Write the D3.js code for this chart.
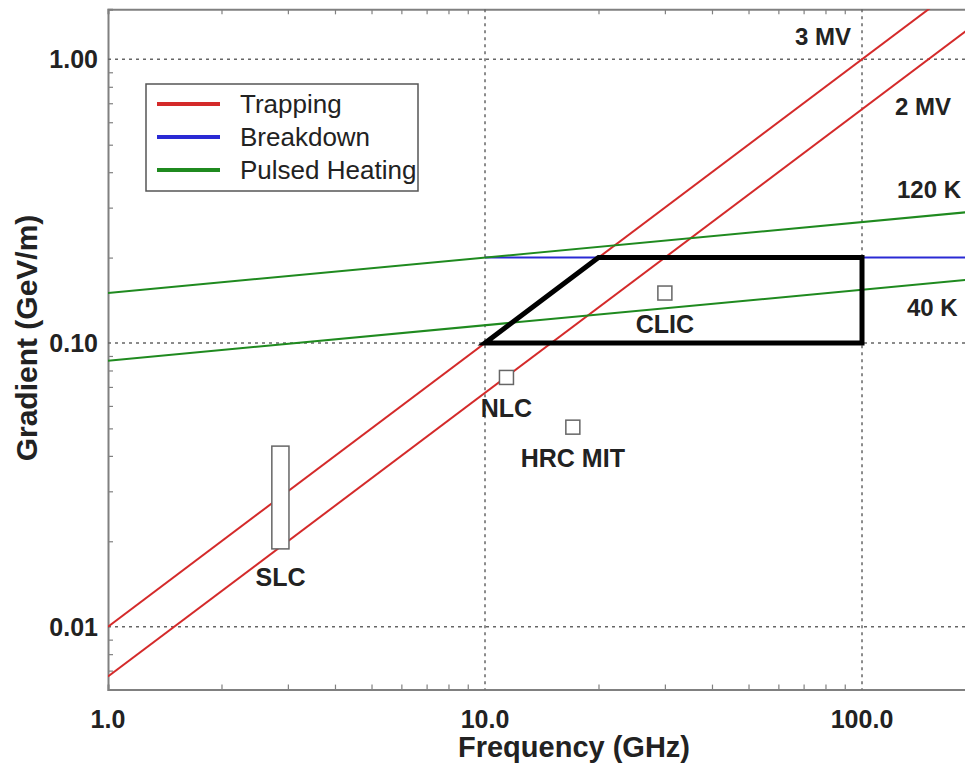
<!DOCTYPE html>
<html>
<head>
<meta charset="utf-8">
<script src="https://cdn.jsdelivr.net/npm/d3@7"></script>
<style>
  body { margin: 0; background: #fff; }
  text { font-family: "Liberation Sans", Arial, sans-serif; fill: #222; }
</style>
</head>
<body>
<script>
const w = 965;
const h = 766;

// data: frequency (GHz) vs gradient (GeV/m)
const trapping = [
	{ label: '3 MV', points: [[1, 0.01], [200, 2.0]] },
	{ label: '2 MV', points: [[1, 0.00667], [200, 1.333]] }
];
const breakdown = [[10, 0.2], [200, 0.2]];
const heating = [
	{ label: '120 K', points: [[1, 0.15], [200, 0.291]] },
	{ label: '40 K', points: [[1, 0.0866], [200, 0.168]] }
];
const region = [[10, 0.1], [20, 0.2], [100, 0.2], [100, 0.1]];
const machines = [
	{ name: 'CLIC', f: 30, g: 0.15 },
	{ name: 'NLC', f: 11.4, g: 0.0756 },
	{ name: 'HRC MIT', f: 17.1, g: 0.0505 }
];
const slc = { name: 'SLC', f0: 2.72, f1: 3.02, g0: 0.0188, g1: 0.0433 };
const xTicks = [1, 10, 100];
const xTickLabels = ['1.0', '10.0', '100.0'];
const yTicks = [1, 0.1, 0.01];
const yTickLabels = ['1.00', '0.10', '0.01'];
const legendItems = [
	{ name: 'Trapping', color: '#d42a2a' },
	{ name: 'Breakdown', color: '#2a2ad4' },
	{ name: 'Pulsed Heating', color: '#1f8a1f' }
];

const x = d3.scaleLog().domain([1, 200]).range([108, 975.5]);
const y = d3.scaleLog().domain([0.006, 1.5]).range([689.6, 9.35]);
const plotTop = y.range()[1], plotBottom = y.range()[0], plotLeft = x.range()[0];

const svg = d3.select('body').append('svg')
	.attr('width', w)
	.attr('height', h);

svg.append('clipPath').attr('id', 'plot')
	.append('rect')
	.attr('x', plotLeft).attr('y', plotTop)
	.attr('width', w - plotLeft).attr('height', plotBottom - plotTop);

// minor ticks, pointing inward, on bottom, top and left
const minorX = [];
for (let d = 1; d < 200; d *= 10) for (let k = 2; k <= 9; k++) if (d * k <= 200) minorX.push(d * k);
const minorY = [];
for (let d = 0.001; d < 1.5; d *= 10) for (let k = 2; k <= 9; k++) if (d * k >= 0.006 && d * k <= 1.5) minorY.push(d * k);

const axisColor = '#808080';
const bAxis = svg.append('g').attr('transform', `translate(0,${plotBottom})`)
	.call(d3.axisBottom(x).tickValues(minorX).tickSize(-5).tickFormat(''));
const tAxis = svg.append('g').attr('transform', `translate(0,${plotTop})`)
	.call(d3.axisTop(x).tickValues(minorX).tickSize(-5).tickFormat(''));
const lAxis = svg.append('g').attr('transform', `translate(${plotLeft},0)`)
	.call(d3.axisLeft(y).tickValues(minorY).tickSize(-5).tickFormat(''));
[bAxis, tAxis, lAxis].forEach(a => {
	a.select('.domain').attr('stroke', axisColor).attr('stroke-width', 2);
	a.selectAll('.tick line').attr('stroke', axisColor).attr('stroke-width', 1.2);
});

// dotted grid at the decades
svg.append('g').selectAll('line')
	.data(xTicks.slice(1))
	.enter().append('line')
	.attr('x1', d => x(d)).attr('x2', d => x(d))
	.attr('y1', plotTop).attr('y2', plotBottom)
	.attr('stroke', '#666').attr('stroke-width', 1.5).attr('stroke-dasharray', '3,4');
svg.append('g').selectAll('line')
	.data(yTicks)
	.enter().append('line')
	.attr('x1', plotLeft).attr('x2', w)
	.attr('y1', d => y(d)).attr('y2', d => y(d))
	.attr('stroke', '#666').attr('stroke-width', 1.5).attr('stroke-dasharray', '3,4');

// tick labels
svg.append('g').selectAll('text')
	.data(xTicks)
	.enter().append('text')
	.attr('x', d => x(d)).attr('y', 728)
	.attr('text-anchor', 'middle')
	.style('font-size', '25px').style('font-weight', 'bold')
	.text((d, i) => xTickLabels[i]);
svg.append('g').selectAll('text')
	.data(yTicks)
	.enter().append('text')
	.attr('x', 98).attr('y', d => y(d) + 9)
	.attr('text-anchor', 'end')
	.style('font-size', '25px').style('font-weight', 'bold')
	.text((d, i) => yTickLabels[i]);

// axis titles
svg.append('text')
	.attr('x', 574).attr('y', 757)
	.attr('text-anchor', 'middle')
	.style('font-size', '29px').style('font-weight', 'bold')
	.text('Frequency (GHz)');
svg.append('text')
	.attr('transform', 'translate(37,338) rotate(-90)')
	.attr('text-anchor', 'middle')
	.style('font-size', '30px').style('font-weight', 'bold')
	.text('Gradient (GeV/m)');

const line = d3.line().x(d => x(d[0])).y(d => y(d[1]));
const plot = svg.append('g').attr('clip-path', 'url(#plot)');

plot.selectAll('.trap')
	.data(trapping)
	.enter().append('path')
	.attr('class', 'trap')
	.attr('d', d => line(d.points))
	.attr('fill', 'none').attr('stroke', legendItems[0].color).attr('stroke-width', 2);

plot.append('path')
	.attr('d', line(breakdown))
	.attr('fill', 'none').attr('stroke', legendItems[1].color).attr('stroke-width', 2);

plot.selectAll('.heat')
	.data(heating)
	.enter().append('path')
	.attr('class', 'heat')
	.attr('d', d => line(d.points))
	.attr('fill', 'none').attr('stroke', legendItems[2].color).attr('stroke-width', 2);

plot.append('path')
	.attr('d', line(region) + 'Z')
	.attr('fill', 'none').attr('stroke', '#000').attr('stroke-width', 5)
	.attr('stroke-linejoin', 'miter');

// machines
plot.selectAll('.machine')
	.data(machines)
	.enter().append('rect')
	.attr('class', 'machine')
	.attr('x', d => x(d.f) - 7).attr('y', d => y(d.g) - 7)
	.attr('width', 14).attr('height', 14)
	.attr('fill', '#fff').attr('stroke', '#666').attr('stroke-width', 1.5);

plot.append('rect')
	.attr('x', x(slc.f0)).attr('y', y(slc.g1))
	.attr('width', x(slc.f1) - x(slc.f0)).attr('height', y(slc.g0) - y(slc.g1))
	.attr('fill', '#fff').attr('stroke', '#666').attr('stroke-width', 1.5);

svg.selectAll('.mlabel')
	.data(machines)
	.enter().append('text')
	.attr('class', 'mlabel')
	.attr('x', d => x(d.f)).attr('y', d => y(d.g) + 40)
	.attr('text-anchor', 'middle')
	.style('font-size', '25px').style('font-weight', 'bold')
	.text(d => d.name);
svg.append('text')
	.attr('x', x((slc.f0 + slc.f1) / 2)).attr('y', y(slc.g0) + 37)
	.attr('text-anchor', 'middle')
	.style('font-size', '25px').style('font-weight', 'bold')
	.text(slc.name);

// curve labels
const curveLabels = [
	{ text: trapping[0].label, x: 851, y: 45, anchor: 'end' },
	{ text: trapping[1].label, x: 895, y: 115, anchor: 'start' },
	{ text: heating[0].label, x: 897, y: 198, anchor: 'start' },
	{ text: heating[1].label, x: 907, y: 316, anchor: 'start' }
];
svg.selectAll('.clabel')
	.data(curveLabels)
	.enter().append('text')
	.attr('class', 'clabel')
	.attr('x', d => d.x).attr('y', d => d.y)
	.attr('text-anchor', d => d.anchor)
	.style('font-size', '24px').style('font-weight', 'bold')
	.text(d => d.text);

// legend
const legend = svg.append('g');
legend.append('rect')
	.attr('x', 146).attr('y', 84).attr('width', 272).attr('height', 107)
	.attr('fill', '#fff').attr('stroke', '#555').attr('stroke-width', 1.5);
const item = legend.selectAll('.item')
	.data(legendItems)
	.enter().append('g')
	.attr('class', 'item')
	.attr('transform', (d, i) => `translate(0,${104 + i * 33})`);
item.append('line')
	.attr('x1', 157).attr('x2', 220)
	.attr('stroke', d => d.color).attr('stroke-width', 4);
item.append('text')
	.attr('x', 240).attr('y', 9)
	.style('font-size', '26px')
	.text(d => d.name);
</script>
</body>
</html>
